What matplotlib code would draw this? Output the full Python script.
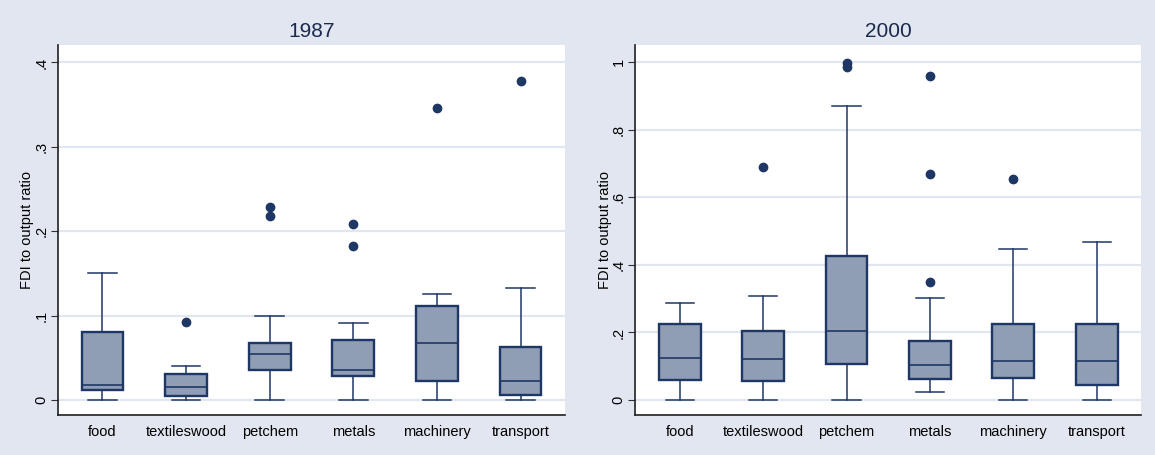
import matplotlib
matplotlib.use("Agg")
import matplotlib.pyplot as plt

plt.rcParams['font.family'] = ['Liberation Sans', 'DejaVu Sans']

sectors = ["food", "textileswood", "petchem", "metals", "machinery", "transport"]

# 1987 box stats
lo_87 = [0, 0, 0, 0, 0, 0]
q1_87 = [0.012, 0.005, 0.036, 0.029, 0.023, 0.006]
med_87 = [0.018, 0.015, 0.055, 0.036, 0.068, 0.023]
q3_87 = [0.080, 0.031, 0.068, 0.071, 0.111, 0.063]
hi_87 = [0.150, 0.040, 0.100, 0.091, 0.126, 0.133]
out_87 = [[], [0.092], [0.229, 0.218], [0.208, 0.182], [0.346], [0.378]]

# 2000 box stats
lo_00 = [0, 0, 0, 0.025, 0, 0]
q1_00 = [0.058, 0.057, 0.108, 0.062, 0.066, 0.044]
med_00 = [0.123, 0.120, 0.203, 0.104, 0.117, 0.117]
q3_00 = [0.224, 0.203, 0.427, 0.175, 0.224, 0.224]
hi_00 = [0.286, 0.307, 0.871, 0.303, 0.448, 0.469]
out_00 = [[], [0.691], [0.999, 0.987], [0.958, 0.670, 0.350], [0.654], []]

bg = "#E1E6F0"
navy = "#1F3765"
fill = "#8F9DB5"


def make_stats(lo, q1, med, q3, hi, out):
    stats = []
    for i in range(len(sectors)):
        stats.append({"whislo": lo[i], "q1": q1[i], "med": med[i], "q3": q3[i],
                      "whishi": hi[i], "fliers": out[i], "label": sectors[i]})
    return stats


def draw_panel(ax, stats, title, ylim, yticks, yticklabels):
    ax.set_facecolor("white")
    ax.bxp(stats, positions=range(1, 7), widths=0.5, patch_artist=True,
           boxprops=dict(facecolor=fill, edgecolor=navy, linewidth=1.7),
           medianprops=dict(color=navy, linewidth=1.2),
           whiskerprops=dict(color=navy, linewidth=1.1),
           capprops=dict(color=navy, linewidth=1.1),
           capwidths=0.34,
           flierprops=dict(marker="o", markerfacecolor=navy, markeredgecolor=navy,
                           markersize=6))
    ax.set_xlim(0.468, 6.532)
    ax.set_ylim(*ylim)
    ax.set_yticks(yticks)
    ax.set_yticklabels(yticklabels, rotation=90, va="center", fontsize=10.5)
    ax.tick_params(axis="x", length=0, labelsize=10.5, pad=7)
    ax.tick_params(axis="y", length=5, width=0.8, color="#303030", pad=2)
    ax.yaxis.grid(True, color="#E1E6F0", linewidth=1.6)
    ax.set_axisbelow(True)
    for s in ["top", "right"]:
        ax.spines[s].set_visible(False)
    for s in ["left", "bottom"]:
        ax.spines[s].set_color("#202020")
        ax.spines[s].set_linewidth(1.2)
    ax.set_ylabel("FDI to output ratio", fontsize=10.5, labelpad=0)
    ax.set_title(title, fontsize=15, color="#1A2A4C", pad=6)


fig = plt.figure(figsize=(11.55, 4.55), dpi=100, facecolor=bg)
ax1 = fig.add_axes([0.0502, 0.0879, 0.439, 0.813])
ax2 = fig.add_axes([0.5502, 0.0879, 0.4377, 0.813])

draw_panel(ax1, make_stats(lo_87, q1_87, med_87, q3_87, hi_87, out_87), "1987",
           (-0.0178, 0.4206), [0, 0.1, 0.2, 0.3, 0.4], ["0", ".1", ".2", ".3", ".4"])
draw_panel(ax2, make_stats(lo_00, q1_00, med_00, q3_00, hi_00, out_00), "2000",
           (-0.0444, 1.051), [0, 0.2, 0.4, 0.6, 0.8, 1.0],
           ["0", ".2", ".4", ".6", ".8", "1"])

fig.savefig("out.png", dpi=100, facecolor=bg)
